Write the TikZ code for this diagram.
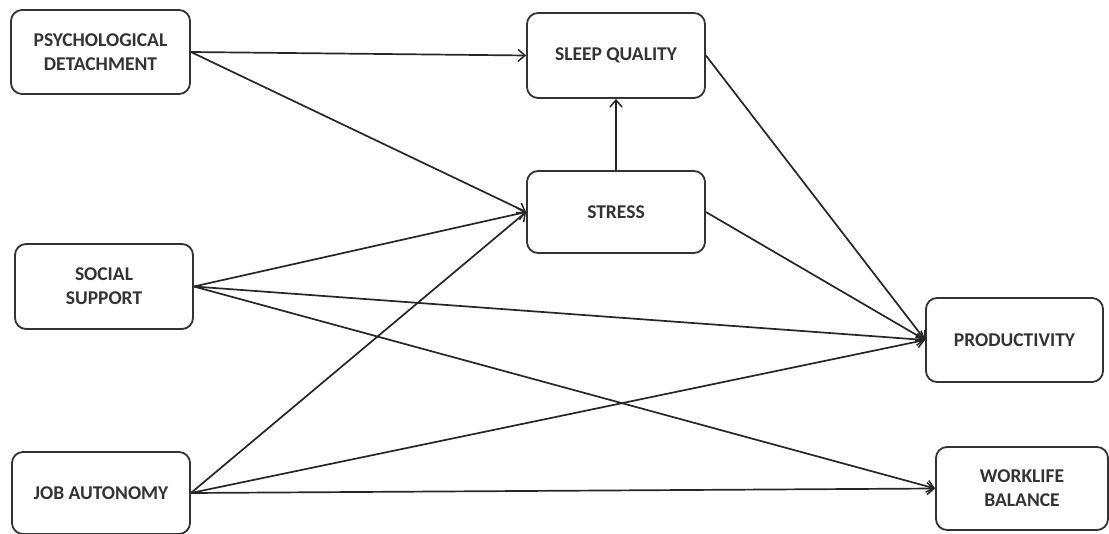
\documentclass[tikz,border=0pt]{standalone}
\usepackage{fontspec}
\setmainfont{Carlito}
\usetikzlibrary{arrows.meta}
\begin{document}
\begin{tikzpicture}[x=1pt,y=-1pt,
  box/.style={draw=black!80, line width=1.8pt, rounded corners=11pt, fill=white, align=center, font=\bfseries\fontsize{19.5}{24}\selectfont, text=black!80, inner sep=0pt},
  conn/.style={draw=black!85, line width=1.7pt, -{Straight Barb[length=7pt,width=12pt,line width=1.5pt]}}]
\useasboundingbox (0,0) rectangle (1109,534);
\node[box, minimum width=179pt, minimum height=84pt] (pd) at (100.5,52) {PSYCHOLOGICAL\\DETACHMENT};
\node[box, minimum width=178pt, minimum height=85pt] (sq) at (616,55.5) {SLEEP QUALITY};
\node[box, minimum width=178pt, minimum height=82pt] (st) at (616,212) {STRESS};
\node[box, minimum width=178pt, minimum height=85pt] (ss) at (104,286.5) {SOCIAL\\SUPPORT};
\node[box, minimum width=177pt, minimum height=84pt] (pr) at (1014.5,340) {PRODUCTIVITY};
\node[box, minimum width=172pt, minimum height=83pt] (wl) at (1022,488.5) {WORKLIFE\\BALANCE};
\node[box, minimum width=178pt, minimum height=82pt] (ja) at (101,493) {JOB AUTONOMY};
\coordinate (pdE) at (pd.east);
\coordinate (ssE) at (ss.east);
\coordinate (jaE) at (ja.east);
\draw[conn] (pdE) -- (sq.west);
\draw[conn] (pdE) -- (st.west);
\draw[conn] (ssE) -- (st.west);
\draw[conn] (jaE) -- (st.west);
\draw[conn] (st.north) -- (sq.south);
\draw[conn] (sq.east) -- (pr.west);
\draw[conn] (st.east) -- (pr.west);
\draw[conn] (ssE) -- (pr.west);
\draw[conn] (jaE) -- (pr.west);
\draw[conn] (ssE) -- (wl.west);
\draw[conn] (jaE) -- (wl.west);
\end{tikzpicture}
\end{document}
